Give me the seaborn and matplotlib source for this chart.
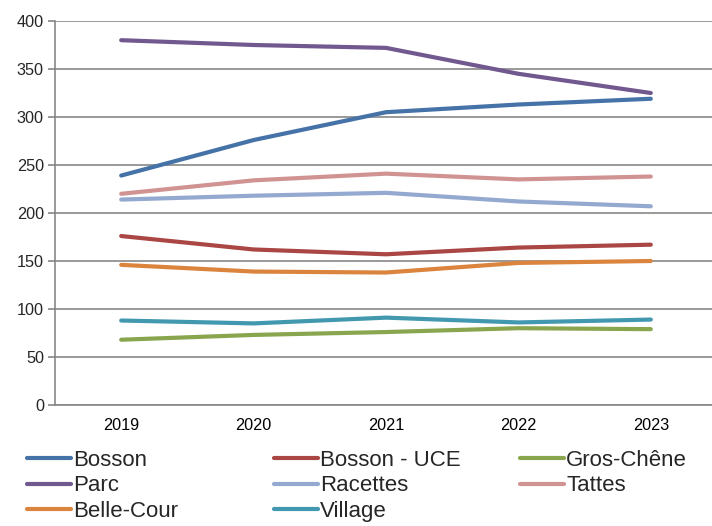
import pandas as pd
import numpy as np
from matplotlib import pyplot as plt
from matplotlib.lines import Line2D
import seaborn as sns

years = ["2019", "2020", "2021", "2022", "2023"]
bosson = [239, 276, 305, 313, 319]
bosson_uce = [176, 162, 157, 164, 167]
gros_chene = [68, 73, 76, 80, 79]
parc = [380, 375, 372, 345, 325]
racettes = [214, 218, 221, 212, 207]
tattes = [220, 234, 241, 235, 238]
belle_cour = [146, 139, 138, 148, 150]
village = [88, 85, 91, 86, 89]

names = ["Bosson", "Bosson - UCE", "Gros-Chêne", "Parc", "Racettes",
         "Tattes", "Belle-Cour", "Village"]
series = [bosson, bosson_uce, gros_chene, parc, racettes, tattes, belle_cour, village]
colors = ["#4572A7", "#AA4643", "#89A54E", "#71588F", "#93A9CF",
          "#D19392", "#DB843D", "#4198AF"]

rows = []
for name, vals in zip(names, series):
    for y, v in zip(years, vals):
        rows.append({"Year": y, "Value": v, "Site": name})
df = pd.DataFrame(rows)

sns.set_theme(style="white")
plt.rcParams['font.family'] = ['Liberation Sans', 'DejaVu Sans']

fig = plt.figure(figsize=(7.12, 5.26), dpi=100)
ax = fig.add_axes([55 / 712, 1 - 405 / 526, 662 / 712, 384 / 526])

sns.lineplot(data=df, x="Year", y="Value", hue="Site", hue_order=names,
             palette=colors, linewidth=3.0, legend=False, ax=ax, sort=False)
for ln in ax.lines:
    ln.set_solid_capstyle("round")

ax.set_xlim(-0.5, 4.5)
ax.set_ylim(0, 400)
ax.set_yticks(range(0, 401, 50))
ax.set_xlabel("")
ax.set_ylabel("")
ax.yaxis.grid(True, color="#878787", linewidth=1.2)
ax.set_axisbelow(True)
for s in ["top", "right"]:
    ax.spines[s].set_visible(False)
for s in ["left", "bottom"]:
    ax.spines[s].set_color("#878787")
    ax.spines[s].set_linewidth(1.2)

ax.set_xticks(np.arange(-0.5, 5, 1), minor=True)
ax.tick_params(axis="x", which="major", length=0, pad=9, labelsize=11.7, colors="black")
ax.tick_params(axis="x", which="minor", length=5, color="#878787", width=1.2, direction="out")
ax.tick_params(axis="y", length=5, color="#878787", width=1.2, labelsize=11.7,
               direction="out", left=True, pad=3)

# legend laid out as three separate columns, like the original
cols = [[0, 3, 6], [1, 4, 7], [2, 5]]
xpos = [27 / 712, 274 / 712, 520 / 712]
for xs, idx in zip(xpos, cols):
    handles = [Line2D([], [], color=colors[i], linewidth=3.0, solid_capstyle="round")
               for i in idx]
    labels = [names[i] for i in idx]
    fig.legend(handles, labels, loc="upper left", bbox_to_anchor=(xs, 0.1445),
               frameon=False, fontsize=16, handlelength=2.0, handletextpad=0.08,
               labelspacing=0.2, borderpad=0, borderaxespad=0)

fig.savefig("out.png", dpi=100)
